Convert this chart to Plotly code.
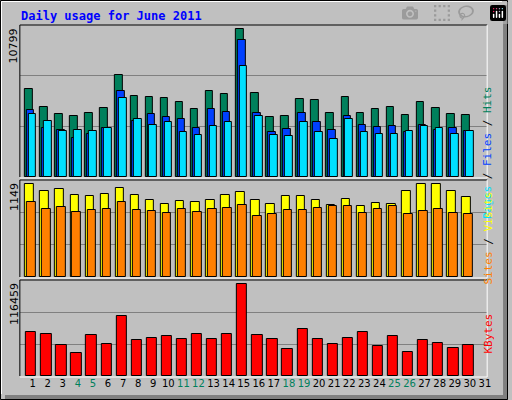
import plotly.graph_objs as go

days = list(range(1, 31))
day_labels = [str(d) for d in range(1, 32)]
weekend = [4, 5, 11, 12, 18, 19, 25, 26]

hits = [6246, 5007, 4458, 4315, 4530, 4887, 7248, 5746, 5674, 5603, 5317, 4816, 6103, 5889, 10537,
        5960, 4244, 4315, 5531, 5460, 4530, 5674, 4530, 4816, 4959, 4387, 5317, 4887, 4458, 4387]
files = [4744, 3505, 3362, 2789, 3075, 3505, 6127, 3982, 4458, 4268, 4125, 3505, 4840, 4625, 9703,
         4530, 3195, 3409, 4554, 3910, 3362, 4315, 3695, 3552, 3624, 3195, 3672, 3338, 3457, 3243]
pages = [4458, 4004, 3290, 3362, 3243, 3481, 5626, 4125, 3672, 3886, 3171, 2956, 3600, 3886, 7915,
         4339, 2956, 2884, 3886, 3171, 2670, 4125, 3171, 3028, 3028, 3243, 3600, 3457, 3052, 3243]
visits = [1101, 1018, 1042, 970, 958, 982, 1054, 970, 910, 862, 898, 886, 910, 970, 1006,
          910, 862, 958, 958, 910, 851, 922, 839, 875, 862, 1018, 1101, 1101, 1018, 946]
sites = [887, 803, 827, 767, 791, 803, 887, 791, 779, 755, 803, 767, 803, 815, 851,
         720, 744, 791, 791, 815, 839, 839, 755, 803, 839, 744, 779, 803, 755, 744]
kbytes = [52936, 50493, 37055, 28504, 49272, 38277, 72482, 43163, 45606, 48050, 44385, 50493, 44385, 50493, 111573,
          49272, 44385, 32169, 56600, 44385, 38277, 45606, 52936, 35834, 48050, 29726, 43163, 39499, 33390, 37055]

max_hits = 10799
max_visits = 1149
max_kb = 116459

W, H = 512, 400
def px(x):
    return x / W
def py(y):
    return 1 - y / H

fig = go.Figure()
line = dict(color="black", width=1)

def bars(y, color, offset, width, xa, ya):
    fig.add_trace(go.Bar(x=days, y=y, marker=dict(color=color, line=line), offset=offset,
                         width=width, xaxis=xa, yaxis=ya, showlegend=False, hoverinfo="y"))

bars(hits, "#00805C", -0.17, 0.5, "x", "y")
bars(files, "#0040FF", -0.04, 0.5, "x", "y")
bars(pages, "#00E0FF", 0.09, 0.5, "x", "y")
bars(visits, "#FFFF00", -0.15, 0.56, "x2", "y2")
bars(sites, "#FF8000", -0.02, 0.56, "x2", "y2")
bars(kbytes, "#FF0000", -0.09, 0.68, "x3", "y3")

panels = [(25, 177, max_hits), (180, 277, max_visits), (280, 376, max_kb)]
xdom = [px(20), px(491)]
tick_text = []
for d in day_labels:
    c = "#00805C" if int(d) in weekend else "black"
    tick_text.append("<span style='color:%s'>%s</span>" % (c, d))

layout = dict(
    width=W, height=H, margin=dict(l=0, r=0, t=0, b=0),
    paper_bgcolor="#C0C0C0", plot_bgcolor="#C0C0C0",
    barmode="overlay", bargap=0,
)
names = ["", "2", "3"]
for i, (top, bot, mx) in enumerate(panels):
    n = names[i]
    layout["xaxis" + n] = dict(domain=xdom, range=[0.5, 31.5], showgrid=False, zeroline=False,
                               anchor="y" + n, fixedrange=True,
                               showticklabels=(i == 2), tickangle=0,
                               tickvals=[d + 0.35 for d in range(1, 32)], ticktext=tick_text,
                               ticks="", ticklen=0,
                               tickfont=dict(family="DejaVu Sans", size=10, color="black"))
    layout["yaxis" + n] = dict(domain=[py(bot), py(top)], range=[0, mx], anchor="x" + n,
                               tickvals=[mx / 3, 2 * mx / 3], showticklabels=False,
                               gridcolor="#808080", gridwidth=1, zeroline=False, fixedrange=True)
fig.update_layout(**layout)

shapes = []
# outer border and shadow
shapes.append(dict(type="rect", xref="paper", yref="paper", x0=px(507), x1=1, y0=0, y1=py(5),
                   fillcolor="#808080", line_width=0))
shapes.append(dict(type="rect", xref="paper", yref="paper", x0=px(5), x1=1, y0=0, y1=py(395),
                   fillcolor="#808080", line_width=0))
shapes.append(dict(type="rect", xref="paper", yref="paper", x0=px(0.5), x1=px(511.5), y0=py(399.5), y1=py(0.5),
                   line=dict(color="black", width=1)))
shapes.append(dict(type="line", xref="paper", yref="paper", x0=px(1.5), x1=px(506), y0=py(1.5), y1=py(1.5),
                   line=dict(color="white", width=1)))
shapes.append(dict(type="line", xref="paper", yref="paper", x0=px(1.5), x1=px(1.5), y0=py(1.5), y1=py(394),
                   line=dict(color="white", width=1)))
for top, bot, mx in panels:
    x0, x1 = px(20), px(491)
    shapes.append(dict(type="line", xref="paper", yref="paper", x0=x0, x1=x1, y0=py(top), y1=py(top),
                       line=dict(color="black", width=1)))
    shapes.append(dict(type="line", xref="paper", yref="paper", x0=x0, x1=x0, y0=py(top), y1=py(bot),
                       line=dict(color="black", width=1)))
    shapes.append(dict(type="line", xref="paper", yref="paper", x0=x0, x1=x1, y0=py(bot + 1), y1=py(bot + 1),
                       line=dict(color="white", width=1)))
    shapes.append(dict(type="line", xref="paper", yref="paper", x0=x1, x1=x1, y0=py(top), y1=py(bot + 1),
                       line=dict(color="white", width=1)))
fig.update_layout(shapes=shapes)

mono = "DejaVu Sans Mono"
ann = [
    dict(text="<b>Daily usage for June 2011</b>", x=px(19), y=py(16), xanchor="left", yanchor="middle",
         font=dict(family=mono, size=12, color="#0000FF")),
    dict(text="10799", x=px(14), y=py(26), textangle=-90, xanchor="center", yanchor="top",
         font=dict(family="DejaVu Sans", size=11, color="black")),
    dict(text="1149", x=px(14), y=py(181), textangle=-90, xanchor="center", yanchor="top",
         font=dict(family="DejaVu Sans", size=11, color="black")),
    dict(text="116459", x=px(14), y=py(281), textangle=-90, xanchor="center", yanchor="top",
         font=dict(family="DejaVu Sans", size=11, color="black")),
    dict(text="<span style='color:#00E0FF'>Pages</span> / <span style='color:#0040FF'>Files</span> / "
              "<span style='color:#00805C'>Hits</span>",
         x=px(500), y=py(84), textangle=-90, font=dict(family=mono, size=11, color="black")),
    dict(text="<span style='color:#FF8000'>Sites</span> / <span style='color:#FFFF00'>Visits</span>",
         x=px(500), y=py(238), textangle=-90, font=dict(family=mono, size=11, color="black")),
    dict(text="KBytes", x=px(500), y=py(356), textangle=-90, font=dict(family=mono, size=11, color="#FF0000")),
]
for a in ann:
    a.update(xref="paper", yref="paper", showarrow=False)
fig.update_layout(annotations=ann)

fig.write_html("out.html", post_script="document.body.style.margin='0';")
